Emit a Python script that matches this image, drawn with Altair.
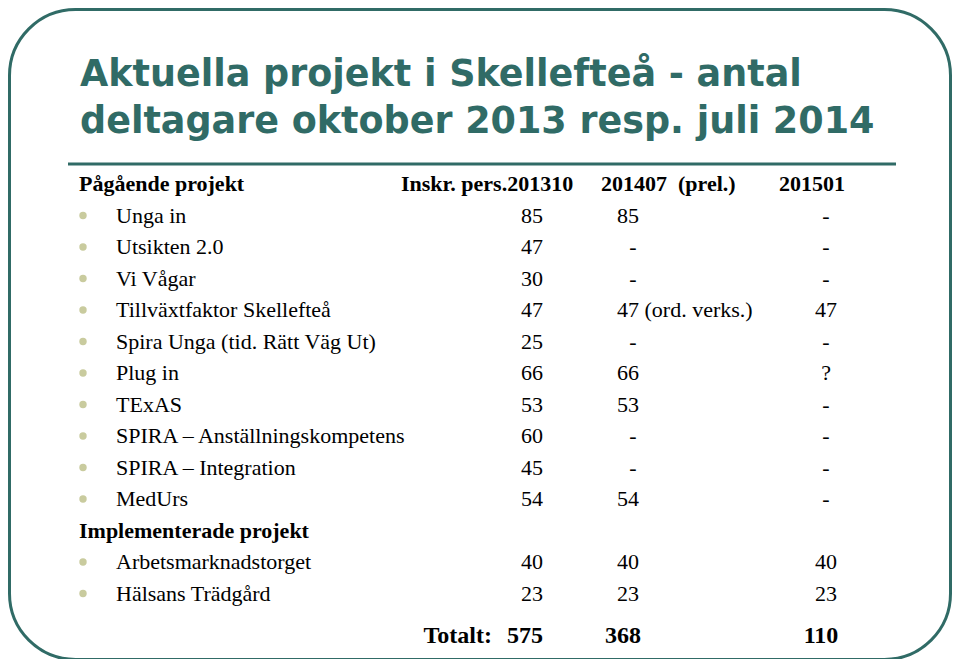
import altair as alt
import pandas as pd

# ---------------- data ----------------
title_lines = ["Aktuella projekt i Skellefteå - antal",
               "deltagare oktober 2013 resp. juli 2014"]

section_labels = ["Pågående projekt", "Implementerade projekt"]
section_rows = [0, 11]

col_headers = ["Inskr. pers.201310", "201407\u00a0 (prel.)", "201501"]

projects = ["Unga in", "Utsikten 2.0", "Vi Vågar", "Tillväxtfaktor Skellefteå",
            "Spira Unga (tid. Rätt Väg Ut)", "Plug in", "TExAS",
            "SPIRA – Anställningskompetens", "SPIRA – Integration", "MedUrs",
            "Arbetsmarknadstorget", "Hälsans Trädgård"]
project_rows = [1, 2, 3, 4, 5, 6, 7, 8, 9, 10, 12, 13]

v201310 = ["85", "47", "30", "47", "25", "66", "53", "60", "45", "54", "40", "23"]
v201407 = ["85", "-", "-", "47 (ord. verks.)", "-", "66", "53", "-", "-", "54", "40", "23"]
v201501 = ["-", "-", "-", "47", "-", "?", "-", "-", "-", "-", "40", "23"]

total_label = "Totalt:"
totals = ["575", "368", "110"]
total_row = 14

# ---------------- styling ----------------
TEAL = "#306b66"
BULLET = "#c9cb9e"
SERIF = "Liberation Serif"
SANS = "DejaVu Sans"
FS = 22

df = pd.DataFrame({"row": project_rows, "project": projects,
                   "c1": v201310, "c2": v201407, "c3": v201501})
df_sec = pd.DataFrame({"row": section_rows, "label": section_labels})
df_tot = pd.DataFrame({"row": [total_row], "label": [total_label],
                       "t1": [totals[0]], "t2": [totals[1]], "t3": [totals[2]]})
df_hdr = pd.DataFrame({"row": [0], "h1": [col_headers[0]],
                       "h2": [col_headers[1]], "h3": [col_headers[2]]})
one = pd.DataFrame({"k": [0]})

Y = alt.Y("row:Q", scale=alt.Scale(domain=[0, 14], range=[176, 617],
                                   nice=False, zero=False), axis=None)


def txt(data, field, x, align="left", bold=False, size=FS, dy=0, filt=None):
    base = alt.Chart(data)
    if filt is not None:
        base = base.transform_filter(filt)
    return base.mark_text(align=align, baseline="middle", font=SERIF,
                          fontSize=size, fontWeight="bold" if bold else "normal",
                          color="black", dy=dy).encode(
        x=alt.value(x), y=Y, text=alt.Text(f"{field}:N"))


border = alt.Chart(one).mark_rect(fill="white", fillOpacity=0, stroke=TEAL,
                                  strokeWidth=3, cornerRadius=66).encode(
    x=alt.value(1.5), x2=alt.value(942.5), y=alt.value(1.5), y2=alt.value(651.5))

title1 = alt.Chart(one).mark_text(align="left", baseline="alphabetic", font=SANS,
                                  fontSize=36.5, fontWeight="bold", color=TEAL).encode(
    x=alt.value(72), y=alt.value(78), text=alt.value(title_lines[0]))
title2 = alt.Chart(one).mark_text(align="left", baseline="alphabetic", font=SANS,
                                  fontSize=36.5, fontWeight="bold", color=TEAL).encode(
    x=alt.value(72), y=alt.value(125), text=alt.value(title_lines[1]))

rule = alt.Chart(one).mark_rule(color=TEAL, strokeWidth=3).encode(
    x=alt.value(60), x2=alt.value(888), y=alt.value(156))

bullets = alt.Chart(df).mark_circle(color=BULLET, opacity=1, size=55).encode(
    x=alt.value(75), y=Y)

layers = [
    border, title1, title2, rule, bullets,
    txt(df_sec, "label", 71, bold=True),
    txt(df_hdr, "h1", 393, bold=True),
    txt(df_hdr, "h2", 593, bold=True),
    txt(df_hdr, "h3", 771, bold=True),
    txt(df, "project", 108),
    txt(df, "c1", 535, align="right"),
    txt(df, "c2", 609, filt="datum.c2 != '-'"),
    txt(df, "c2", 625, align="center", filt="datum.c2 == '-'"),
    txt(df, "c3", 818, align="center"),
    txt(df_tot, "label", 484, align="right", bold=True, size=24, dy=11),
    txt(df_tot, "t1", 535, align="right", bold=True, size=24, dy=11),
    txt(df_tot, "t2", 597, bold=True, size=24, dy=11),
    txt(df_tot, "t3", 813, align="center", bold=True, size=24, dy=11),
]

chart = alt.layer(*layers).properties(
    width=944, height=651, padding=0, autosize="none", background="white"
).configure_view(stroke=None)

chart.save("out.html", embed_options={"renderer": "svg", "actions": False})
